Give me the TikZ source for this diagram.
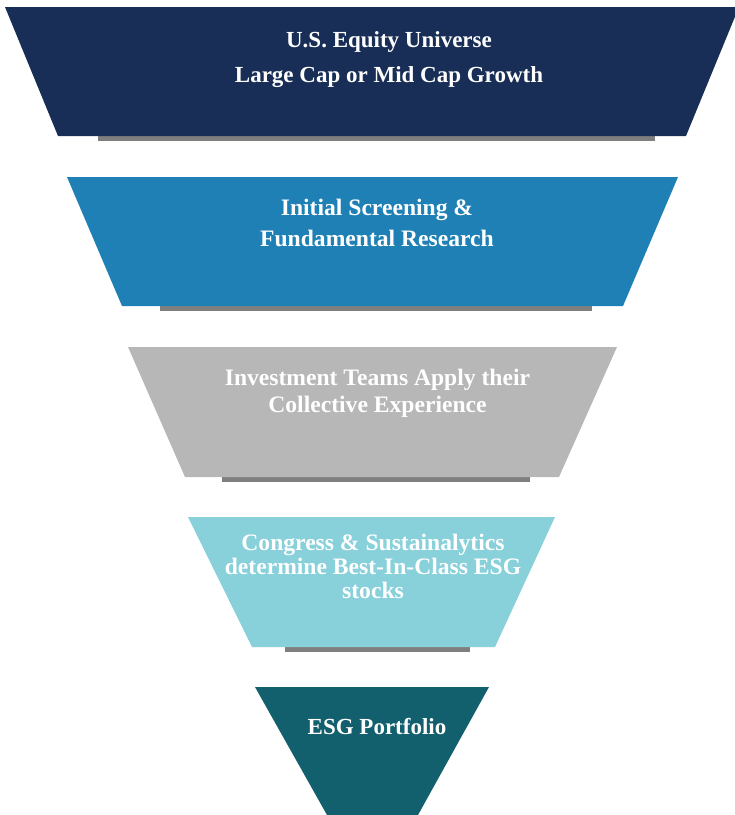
\documentclass[tikz,border=0pt]{standalone}
\usepackage{fontspec}
\setmainfont{Liberation Serif}
\definecolor{stageNavy}{HTML}{182E56}
\definecolor{stageBlue}{HTML}{1E80B5}
\definecolor{stageGray}{HTML}{B7B7B7}
\definecolor{stageAqua}{HTML}{88D1DB}
\definecolor{stageTeal}{HTML}{12606E}
\definecolor{barGray}{HTML}{7F7F7F}
\begin{document}
\begin{tikzpicture}[x=1pt,y=-1pt,
    shadowbar/.style={fill=barGray},
    stagetext/.style={text=white,font=\bfseries\fontsize{23.6}{#1}\selectfont,
      align=center,anchor=base,inner sep=0pt}]
        \useasboundingbox (0,0) rectangle (735,815);
        \fill[shadowbar] (98,134) rectangle (655,141);
        \fill[stageNavy] (5,7)--(739,7)--(686,136)--(58,136)--cycle;
        \node[stagetext=35,font=\bfseries\fontsize{23}{35}\selectfont] (universe) at (389,82) {U.S. Equity Universe\\Large Cap or Mid Cap Growth};
        \fill[shadowbar] (160,304) rectangle (592,311);
        \fill[stageBlue] (67,177)--(678,177)--(623,306)--(122,306)--cycle;
        \node[stagetext=31] (screening) at (377,246) {Initial Screening \&\\Fundamental Research};
        \fill[shadowbar] (222,475) rectangle (530,482);
        \fill[stageGray] (128,347)--(617,347)--(559,477)--(185,477)--cycle;
        \node[stagetext=27] (teams) at (377.5,412) {Investment Teams Apply their\\Collective Experience};
        \fill[shadowbar] (285,645) rectangle (470,652);
        \fill[stageAqua] (188,517)--(555,517)--(495,647)--(252,647)--cycle;
        \node[stagetext=24] (congress) at (373,598) {Congress \& Sustainalytics\\determine Best-In-Class ESG\\stocks};
        \fill[stageTeal] (255,687)--(489,687)--(418,815)--(327,815)--cycle;
        \node[stagetext=28,font=\bfseries\fontsize{23}{28}\selectfont] (portfolio) at (377,734) {ESG Portfolio};
      \end{tikzpicture}
\end{document}
